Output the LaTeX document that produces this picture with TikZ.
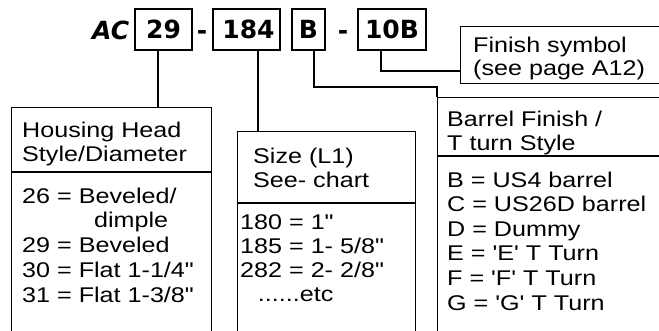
\documentclass[tikz,border=0pt]{standalone}
\usepackage{fontspec}
\setmainfont{Liberation Sans}[Ligatures=TeXOff]
\newfontfamily\topfont{DejaVu Sans}
\newcommand{\widetext}[2]{\scalebox{1.18}[1]{\fontsize{21.3}{#1}\selectfont\begin{tabular}[t]{@{}l@{}}#2\end{tabular}}}
\begin{document}
\begin{tikzpicture}[x=1pt,y=-1pt,
  topbox/.style={draw,line width=1.8pt,inner sep=0pt,font=\topfont\bfseries\fontsize{25}{25}\selectfont},
  lowbox/.style={draw,line width=1.2pt,inner sep=0pt,anchor=north west},
  sep/.style={line width=1.6pt},
  conn/.style={line width=1.2pt},
  txt/.style={anchor=base west,inner sep=0pt}]
\useasboundingbox (0,0) rectangle (659,330);
\clip (0,0) rectangle (659,330);
% top row
\node[anchor=base west,inner sep=0pt,font=\topfont\bfseries\itshape\fontsize{25}{25}\selectfont] (ac) at (92,39) {AC};
\node[topbox,minimum width=57,minimum height=41] (b29) at (163.5,29.5) {29\hspace{6pt}};
\node[anchor=base,inner sep=0pt,font=\topfont\bfseries\fontsize{25}{25}\selectfont] (d1) at (202,39) {-};
\node[topbox,minimum width=67,minimum height=41] (b184) at (246.5,29.5) {\hspace{4pt}184};
\node[topbox,minimum width=33,minimum height=41] (bB) at (308.5,29.5) {B};
\node[anchor=base,inner sep=0pt,font=\topfont\bfseries\fontsize{25}{25}\selectfont] (d2) at (343,39) {-};
\node[topbox,minimum width=68,minimum height=41] (b10) at (392,29.5) {10B};
% lower boxes
\node[lowbox,minimum width=200,minimum height=240] (hous) at (11,107) {};
\node[lowbox,minimum width=178,minimum height=215] (size) at (237,131) {};
\node[lowbox,minimum width=240,minimum height=250] (barrel) at (437,97) {};
\node[lowbox,minimum width=220,minimum height=57] (finish) at (460,26) {};
% separators
\draw[sep] (11,172) -- (211,172);
\draw[sep] (237,203) -- (415,203);
\draw[sep] (437,156) -- (680,156);
% connectors
\coordinate (kB) at (437,87);
\coordinate (k10) at (460,71);
\draw[conn] (b29.south -| 158,0) -- (hous.north -| 158,0);
\draw[conn] (b184.south -| 258,0) -- (size.north -| 258,0);
\draw[conn] (bB.south -| 314,0) |- (kB) -- (barrel.north west);
\draw[conn] (b10.south -| 381,0) |- (k10);
% texts
\node[txt] (t1) at (22,137) {\widetext{24}{Housing Head\\Style/Diameter}};
\node[txt] (t2) at (22,203) {\widetext{24.75}{26 = Beveled/\\\hspace{61pt}dimple\\29 = Beveled\\30 = Flat 1-1/4"\\31 = Flat 1-3/8"}};
\node[txt] (t3) at (253,163) {\widetext{24}{Size (L1)\\See- chart}};
\node[txt] (t4) at (240,229) {\widetext{24}{180 = 1"\\185 = 1- 5/8"\\282 = 2- 2/8"\\\hspace{15pt}......etc}};
\node[txt] (t5) at (447,126) {\widetext{24}{Barrel Finish /\\T turn Style}};
\node[txt] (t6) at (447,187) {\widetext{24.6}{B = US4 barrel\\C = US26D barrel\\D = Dummy\\E = 'E' T Turn\\F = 'F' T Turn\\G = 'G' T Turn}};
\node[txt] (t7) at (473,52) {\widetext{23}{Finish symbol\\(see page A12)}};
\end{tikzpicture}
\end{document}
